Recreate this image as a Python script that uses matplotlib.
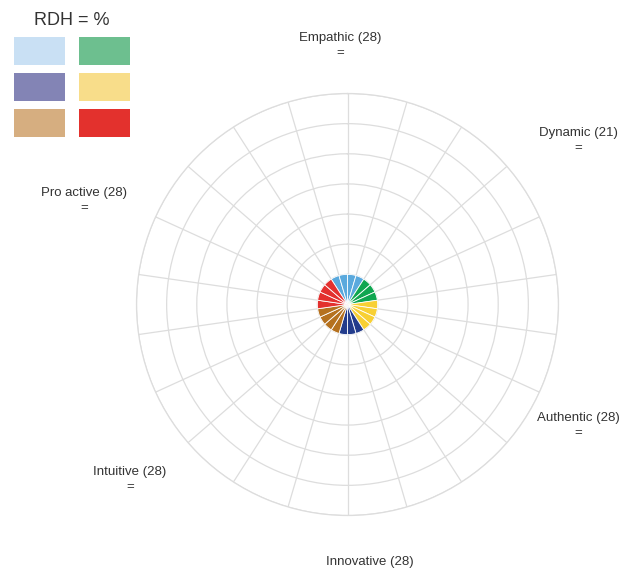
import numpy as np
import matplotlib
matplotlib.use("Agg")
import matplotlib.pyplot as plt
from matplotlib.patches import Patch

plt.rcParams['font.family'] = ['Liberation Sans', 'DejaVu Sans']

# ---- data ----
categories = ["Empathic", "Dynamic", "Authentic", "Innovative", "Intuitive", "Pro active"]
max_scores = [28, 21, 28, 28, 28, 28]
items_per_category = [4, 3, 4, 3, 4, 4]
item_values = [1] * 22          # one wedge per item, all at 1
pie_colors = ["#5aa9dd", "#0fa650", "#f8d034", "#233c8c", "#b5711f", "#e3302e"]
legend_colors = ["#c9e0f4", "#6dbf8f", "#8384b5", "#f8dd8a", "#d6ae80", "#e3312d"]
legend_title = "RDH = %"
scale_max = 7

# ---- layout ----
W, H, DPI = 628, 574, 100
fig = plt.figure(figsize=(W / DPI, H / DPI), dpi=DPI)
cx, cy, R = 347.5, 304.5, 211
ax = fig.add_axes([(cx - R) / W, (H - cy - R) / H, 2 * R / W, 2 * R / H], projection='polar')
ax.set_theta_zero_location('N')
ax.set_theta_direction(-1)

n = len(item_values)
step = 2 * np.pi / n
start_offset = -2  # first item of the first category sits two wedges left of top
colors = []
for c, k in zip(pie_colors, items_per_category):
    colors += [c] * k
thetas = (np.arange(n) + start_offset + 0.5) * step
ax.bar(thetas, item_values, width=step, color=colors, edgecolor='white',
       linewidth=0.6, zorder=3)

ax.set_ylim(0, scale_max)
ax.set_yticks(np.arange(1, scale_max + 1))
ax.set_yticklabels([])
ax.set_xticks(np.arange(n) * step)
ax.set_xticklabels([])
ax.grid(True, color='#dddddd', linewidth=0.9)
ax.spines['polar'].set_color('#dddddd')
ax.spines['polar'].set_linewidth(0.9)
ax.set_axisbelow(True)

# point labels (angle in degrees, radius in scale units, show second line)
label_pos = [(-1.66, 8.58, True), (54.6, 9.40, True), (117.7, 8.64, True),
             (175.0, 8.58, False), (231.1, 9.27, True), (291.5, 9.39, True)]
for name, mx, (ang, rr, second) in zip(categories, max_scores, label_pos):
    txt = f"{name} ({mx})" + ("\n=" if second else "")
    ax.text(np.deg2rad(ang), rr, txt, ha='center', va='center',
            fontsize=9.5, color='#333333', linespacing=1.33, clip_on=False)

# legend
order = [0, 2, 4, 1, 3, 5]  # column-wise fill to show row-wise order
handles = [Patch(facecolor=legend_colors[i], edgecolor='none') for i in order]
leg = fig.legend(handles, [''] * 6, ncol=2, loc='upper left',
                 bbox_to_anchor=(14 / W, 1 - 12 / H), frameon=False,
                 fontsize=10, handlelength=3.67, handleheight=2.725,
                 handletextpad=0.0, columnspacing=1.0, labelspacing=0.58,
                 borderpad=0, borderaxespad=0, title=legend_title,
                 title_fontsize=13)
leg.get_title().set_color('#333333')

fig.savefig("out.png", dpi=DPI)
